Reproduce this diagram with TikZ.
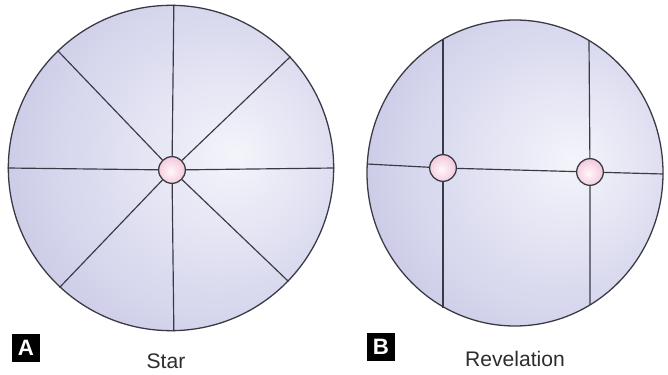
\documentclass[tikz,border=0pt]{standalone}
\usepackage{fontspec}
\setmainfont{Liberation Sans}
\usetikzlibrary{shapes.geometric}
\definecolor{lenshi}{RGB}{244,244,251}
\definecolor{lensmid}{RGB}{214,214,237}
\definecolor{lenslo}{RGB}{178,178,216}
\definecolor{spotin}{RGB}{255,246,250}
\definecolor{spotout}{RGB}{238,182,206}
\definecolor{rimline}{RGB}{58,58,70}
\definecolor{captext}{RGB}{45,45,45}
\pgfdeclareradialshading{lensshade}{\pgfpoint{10bp}{2bp}}{color(0bp)=(lenshi); color(24bp)=(lensmid); color(50bp)=(lenslo); color(72bp)=(lenslo)}
\pgfdeclareradialshading{spotshade}{\pgfpoint{-3bp}{-3bp}}{color(0bp)=(spotin); color(38bp)=(spotout); color(72bp)=(spotout)}

\begin{document}
\begin{tikzpicture}[x=0.03cm, y=-0.03cm,
  lens/.style={draw=rimline, line width=1.1pt, shading=lensshade, inner sep=0pt},
  spot/.style={circle, draw=rimline, line width=1.1pt, shading=spotshade, minimum size=0.8cm, inner sep=0pt},
  seam/.style={rimline, line width=1pt},
  tag/.style={fill=black, text=white, font=\bfseries\fontsize{19}{19}\selectfont, minimum size=0.82cm, inner sep=0pt},
  caption/.style={text=captext, font=\fontsize{18}{18}\selectfont}]
\useasboundingbox (0,0) rectangle (668,375);

\node[lens, circle, minimum size=9.76cm] (starlens) at (171,168) {};
\node[lens, ellipse, minimum width=8.88cm, minimum height=9.18cm] (revlens) at (515,173) {};

\node[spot] (hub) at (172,170) {};
\node[spot] (spotL) at (443,168) {};
\node[spot] (spotR) at (590,172) {};

\foreach \a in {0,43,89,134,180,227,271,316}
  \draw[seam] (hub) -- (starlens.\a);

\coordinate (revW) at (367,164);
\coordinate (revE) at (663,174);
\coordinate (revNL) at (443,39);
\coordinate (revSL) at (443,308);
\coordinate (revNR) at (589,41);
\coordinate (revSR) at (590,305);
\draw[seam] (revW) -- (spotL) -- (spotR) -- (revE);
\draw[seam] (revNL) -- (spotL) -- (revSL);
\draw[seam] (revNR) -- (spotR) -- (revSR);

\node[tag] (tagA) at (26,348) {A};
\node[tag] (tagB) at (381,347) {B};
\node[caption] (capA) at (166,361) {Star};
\node[caption] (capB) at (515,359) {Revelation};
\end{tikzpicture}
\end{document}
